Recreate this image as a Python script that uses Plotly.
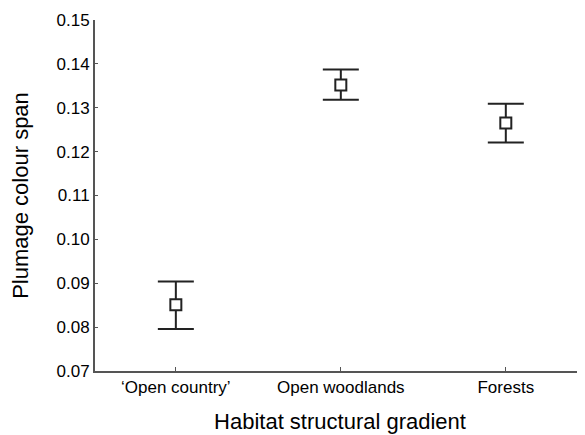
import plotly.graph_objects as go

categories = ["\u2018Open country\u2019", "Open woodlands", "Forests"]
means = [0.0851, 0.1352, 0.1265]
upper = [0.0904, 0.1387, 0.1309]
lower = [0.0796, 0.1318, 0.1221]
y_ticks = [0.07, 0.08, 0.09, 0.10, 0.11, 0.12, 0.13, 0.14, 0.15]

x_pos = list(range(len(categories)))
err_plus = [u - m for u, m in zip(upper, means)]
err_minus = [m - l for m, l in zip(means, lower)]

fig = go.Figure()
fig.add_trace(go.Scatter(
    x=x_pos, y=means, mode="markers",
    marker=dict(symbol="square", size=11, color="white", line=dict(width=2, color="#222222")),
    error_y=dict(type="data", symmetric=False, array=err_plus, arrayminus=err_minus,
                 color="#222222", thickness=2, width=18),
    showlegend=False,
))

# page body has an 8px default margin, so the figure is sized to fit inside it
fig.update_layout(
    width=577, height=427,
    margin=dict(l=87, r=0, t=12, b=64),
    plot_bgcolor="white", paper_bgcolor="white",
    font=dict(family="Liberation Sans, Arial, sans-serif", color="black"),
)
fig.update_xaxes(
    range=[-0.49, 2.48], tickvals=x_pos, ticktext=categories,
    showline=True, linecolor="#555555", linewidth=2, mirror=False,
    ticks="inside", ticklen=4, tickcolor="#555555",
    showgrid=False, zeroline=False, tickfont=dict(size=17), automargin=False,
    title=dict(text="Habitat structural gradient", font=dict(size=22), standoff=17),
)
fig.update_yaxes(
    range=[0.07, 0.15], tickvals=y_ticks,
    tickformat=".2f",
    showline=True, linecolor="#555555", linewidth=2,
    ticks="inside", ticklen=3, tickcolor="#555555",
    showgrid=False, zeroline=False, tickfont=dict(size=17), automargin=False,
    title=dict(text="Plumage colour span", font=dict(size=22), standoff=22),
)

fig.write_html("out.html")
